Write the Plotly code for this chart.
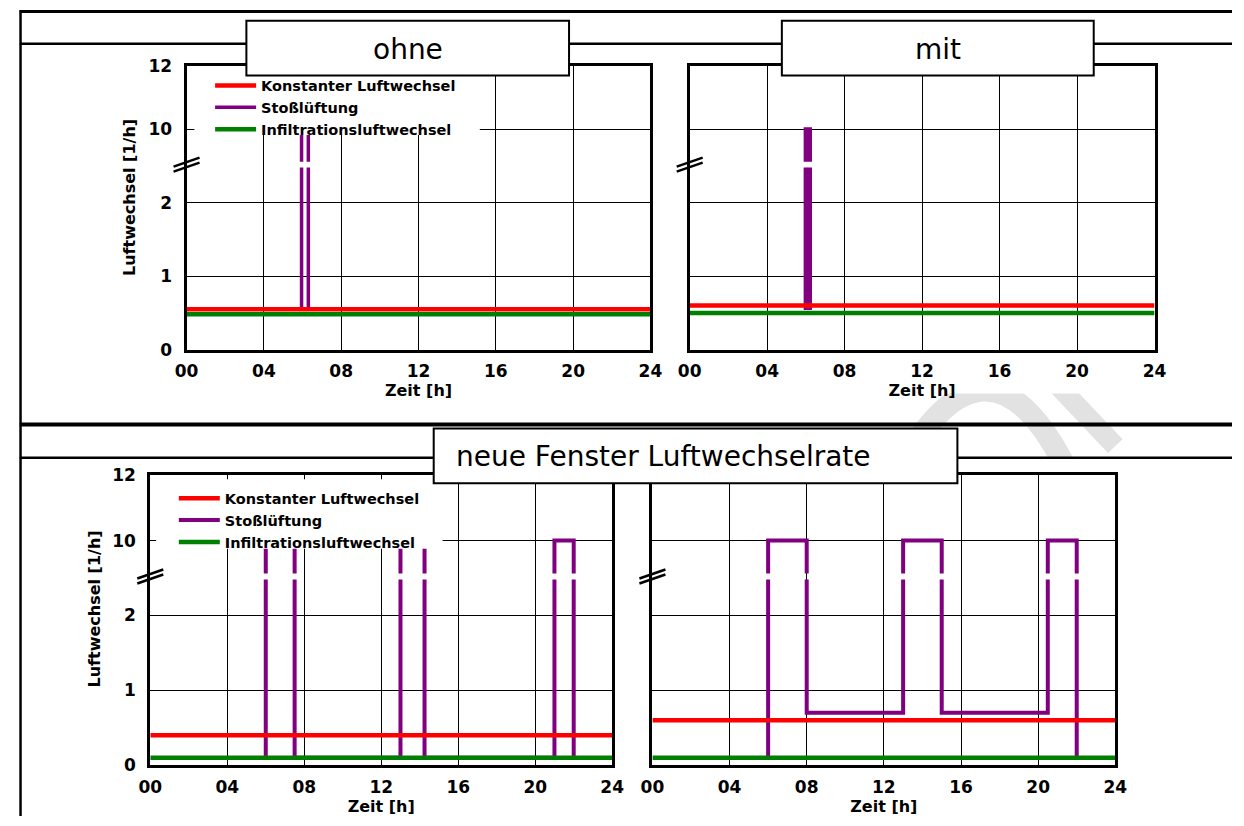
import plotly.graph_objects as go

W, H = 1244, 826

# ---------------- data ----------------
hour_ticks = [0, 4, 8, 12, 16, 20, 24]
hour_text = ["00", "04", "08", "12", "16", "20", "24"]
y_ticks_real = [0, 1, 2, 10, 12]
y_ticks_text = ["0", "1", "2", "10", "12"]

NAME_K = "Konstanter Luftwechsel"
NAME_S = "Stoßlüftung"
NAME_I = "Infiltrationsluftwechsel"

line_x = [0, 24]

# Panel "ohne"
ohne_konst_y = [0.55, 0.55]
ohne_infil_y = [0.48, 0.48]
ohne_stoss_x = [5.95, 5.95, 6.3, 6.3]
ohne_stoss_y = [0.55, 10, 10, 0.55]

# Panel "mit"
mit_konst_y = [0.6, 0.6]
mit_infil_y = [0.5, 0.5]
mit_stoss_x = [6.0, 6.0, 6.2, 6.2]
mit_stoss_y = [0.54, 10, 10, 0.54]

# Panel "neue Fenster" (links)
neu1_konst_y = [0.4, 0.4]
neu1_infil_y = [0.1, 0.1]
neu1_stoss_x = [6, 6, 7.5, 7.5, 13, 13, 14.25, 14.25, 21, 21, 22, 22]
neu1_stoss_y = [0.1, 10, 10, 0.1, 0.1, 10, 10, 0.1, 0.1, 10, 10, 0.1]

# Panel "neue Fenster" (rechts)
neu2_konst_y = [0.6, 0.6]
neu2_infil_y = [0.1, 0.1]
neu2_stoss_x = [6, 6, 8, 8, 13, 13, 15, 15, 20.5, 20.5, 22, 22]
neu2_stoss_y = [0.1, 10, 10, 0.7, 0.7, 10, 10, 0.7, 0.7, 10, 10, 0.1]

# ---------------- broken y axis ----------------
Y_TOP = 3.87          # axis position of value 12
BREAK_AT = 2.52       # axis position of the break marks
GAP_LO, GAP_HI = 2.48, 2.56


def to_axis(v):
    if v <= 2:
        return v
    return 3 + (v - 10) * (Y_TOP - 3) / 2


def with_gap(xs, ys):
    X, Y = [], []
    for i, (x, y) in enumerate(zip(xs, ys)):
        ty = to_axis(y)
        if i > 0:
            px, py = xs[i - 1], to_axis(ys[i - 1])
            if x == px and min(py, ty) < GAP_LO and max(py, ty) > GAP_HI:
                a, b = (GAP_LO, GAP_HI) if ty > py else (GAP_HI, GAP_LO)
                X += [px, None, px]
                Y += [a, None, b]
        X.append(x)
        Y.append(ty)
    return X, Y


def PX(x):
    return x / W


def PY(y):
    return 1 - y / H


RED = "#ff0000"
PURPLE = "#800080"
GREEN = "#008000"
FONT = "DejaVu Sans"

panels = [
    dict(n="", xd=(178, 651), yd=(348, 57), konst=ohne_konst_y, infil=ohne_infil_y,
         sx=ohne_stoss_x, sy=ohne_stoss_y, legend="legend", labels=True, sw=3.5),
    dict(n="2", xd=(691, 1165), yd=(348, 57), konst=mit_konst_y, infil=mit_infil_y,
         sx=mit_stoss_x, sy=mit_stoss_y, legend=None, labels=False, sw=4.5),
    dict(n="3", xd=(141, 612), yd=(774, 477), konst=neu1_konst_y, infil=neu1_infil_y,
         sx=neu1_stoss_x, sy=neu1_stoss_y, legend="legend2", labels=True, sw=4),
    dict(n="4", xd=(653, 1125), yd=(774, 477), konst=neu2_konst_y, infil=neu2_infil_y,
         sx=neu2_stoss_x, sy=neu2_stoss_y, legend=None, labels=False, sw=4),
]

fig = go.Figure()
tickfont = dict(family=FONT, size=17, color="black", weight="bold")

for p in panels:
    xa, ya = "x" + p["n"], "y" + p["n"]
    show = p["legend"] is not None
    lg = p["legend"] or "legend"
    sx, sy = with_gap(p["sx"], p["sy"])
    fig.add_trace(go.Scatter(x=sx, y=sy, mode="lines", name=NAME_S, xaxis=xa, yaxis=ya,
                             line=dict(color=PURPLE, width=p["sw"]), showlegend=show,
                             legend=lg, legendrank=2, hoverinfo="skip"))
    fig.add_trace(go.Scatter(x=line_x, y=[to_axis(v) for v in p["infil"]], mode="lines",
                             name=NAME_I, xaxis=xa, yaxis=ya,
                             line=dict(color=GREEN, width=4.5), showlegend=show,
                             legend=lg, legendrank=3, hoverinfo="skip"))
    fig.add_trace(go.Scatter(x=line_x, y=[to_axis(v) for v in p["konst"]], mode="lines",
                             name=NAME_K, xaxis=xa, yaxis=ya,
                             line=dict(color=RED, width=4.5), showlegend=show,
                             legend=lg, legendrank=1, hoverinfo="skip"))

    xkey, ykey = "xaxis" + p["n"], "yaxis" + p["n"]
    fig.layout[xkey] = dict(
        domain=[PX(p["xd"][0]), PX(p["xd"][1])], anchor=ya, range=[0, 24],
        tickmode="array", tickvals=hour_ticks, ticktext=hour_text,
        showgrid=True, gridcolor="black", gridwidth=1, zeroline=False,
        showline=True, linecolor="black", linewidth=3, mirror=True, ticks="",
        tickfont=tickfont, ticklabelstandoff=4,
        title=dict(text="Zeit [h]", font=dict(family=FONT, size=16, color="black", weight="bold"),
                   standoff=2),
        fixedrange=True,
    )
    fig.layout[ykey] = dict(
        domain=[PY(p["yd"][0]), PY(p["yd"][1])], anchor=xa, range=[0, Y_TOP],
        tickmode="array", tickvals=[to_axis(v) for v in y_ticks_real], ticktext=y_ticks_text,
        showticklabels=p["labels"],
        showgrid=True, gridcolor="black", gridwidth=1, zeroline=False,
        showline=True, linecolor="black", linewidth=3, mirror=True, ticks="",
        tickfont=tickfont, ticklabelstandoff=8, fixedrange=True,
    )

shapes = []


def pline(x0, y0, x1, y1, w, layer="above"):
    shapes.append(dict(type="line", xref="paper", yref="paper", x0=PX(x0), y0=PY(y0),
                       x1=PX(x1), y1=PY(y1), line=dict(color="black", width=w), layer=layer))


def prect(x0, y0, x1, y1, lw, fill="white", layer="above", lc="black"):
    shapes.append(dict(type="rect", xref="paper", yref="paper", x0=PX(x0), y0=PY(y0),
                       x1=PX(x1), y1=PY(y1), fillcolor=fill,
                       line=dict(color=lc, width=lw), layer=layer))


# watermark (light grey), clipped by white areas
def ppath(pts_cmd, w):
    shapes.append(dict(type="path", xref="paper", yref="paper", path=pts_cmd,
                       line=dict(color="#e2e2e2", width=w), fillcolor="rgba(0,0,0,0)",
                       layer="below"))


ppath(f"M {PX(905)},{PY(470)} Q {PX(995)},{PY(310)} {PX(1075)},{PY(470)}", 22)
ppath(f"M {PX(1062)},{PY(380)} L {PX(1125)},{PY(447)}", 20)
prect(8, 0, 1244, 393, 0, layer="below", lc="rgba(0,0,0,0)")
prect(8, 460, 1244, 826, 0, layer="below", lc="rgba(0,0,0,0)")

# frame lines
pline(8, 1.5, 1244, 1.5, 3)
pline(8.7, 0, 8.7, 826, 2.5)
pline(8, 34.5, 1244, 34.5, 2.5)
pline(8, 424.7, 1244, 424.7, 4)
pline(8, 458.8, 1244, 458.8, 2.5)

# white legend backgrounds
prect(186, 60, 477, 128, 0, lc="rgba(0,0,0,0)")
prect(147, 481, 439, 552, 0, lc="rgba(0,0,0,0)")

# title boxes
prect(239, 11, 568, 67, 2)
prect(785, 11, 1103, 67, 2)
prect(430, 429, 964, 485, 2)

# axis break marks
for p in panels:
    for d in (-2.5, 2.5):
        shapes.append(dict(type="line", xref="x" + p["n"] + " domain", yref="y" + p["n"],
                           xsizemode="pixel", xanchor=0, x0=-13, x1=13,
                           ysizemode="pixel", yanchor=BREAK_AT, y0=-4.5 + d, y1=4.5 + d,
                           line=dict(color="black", width=2.5), layer="above"))

annotations = [
    dict(text="ohne", x=PX(403.5), y=PY(40), xref="paper", yref="paper", showarrow=False,
         xanchor="center", yanchor="middle", font=dict(family=FONT, size=28, color="black")),
    dict(text="mit", x=PX(944), y=PY(40), xref="paper", yref="paper", showarrow=False,
         xanchor="center", yanchor="middle", font=dict(family=FONT, size=28, color="black")),
    dict(text="neue Fenster Luftwechselrate", x=PX(451), y=PY(458), xref="paper", yref="paper",
         showarrow=False, xanchor="left", yanchor="middle",
         font=dict(family=FONT, size=28, color="black")),
    dict(text="Luftwechsel [1/h]", x=PX(120), y=PY(192), xref="paper", yref="paper",
         showarrow=False, textangle=-90, xanchor="center", yanchor="middle",
         font=dict(family=FONT, size=16, color="black", weight="bold")),
    dict(text="Luftwechsel [1/h]", x=PX(84), y=PY(614), xref="paper", yref="paper",
         showarrow=False, textangle=-90, xanchor="center", yanchor="middle",
         font=dict(family=FONT, size=16, color="black", weight="bold")),
]

legend_font = dict(family=FONT, size=14.5, color="black", weight="bold")
fig.update_layout(
    width=W, height=H, autosize=False,
    margin=dict(l=0, r=0, t=0, b=0),
    paper_bgcolor="white", plot_bgcolor="white",
    shapes=shapes, annotations=annotations,
    legend=dict(x=PX(202), y=PY(61), xanchor="left", yanchor="top", bgcolor="rgba(0,0,0,0)",
                borderwidth=0, font=legend_font, itemwidth=41, traceorder="normal"),
    legend2=dict(x=PX(165), y=PY(484), xanchor="left", yanchor="top", bgcolor="rgba(0,0,0,0)",
                 borderwidth=0, font=legend_font, itemwidth=41, traceorder="normal"),
    hovermode=False,
)

fig.write_html(
    "out.html",
    config={"displayModeBar": False, "staticPlot": True},
    post_script="document.body.style.margin='0';document.body.style.overflow='hidden';",
)
